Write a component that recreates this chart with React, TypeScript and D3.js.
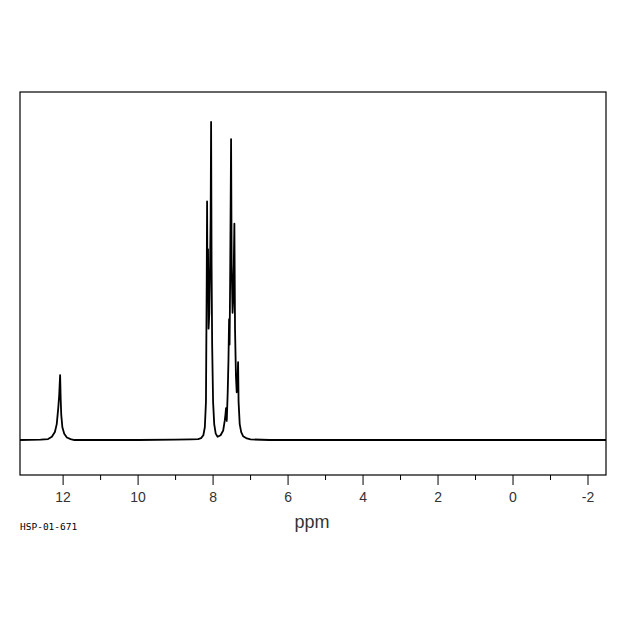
import React from "react";
import * as d3 from "d3";

// Spectrum trace: chemical shift (ppm) and relative intensity (%)
const shiftPpm = [
  13.15, 12.6, 12.4, 12.3, 12.22, 12.17, 12.13, 12.105, 12.08, 12.065, 12.05, 12.02, 11.97, 11.9, 11.8, 11.7,
  10.0, 9.0, 8.6, 8.4, 8.32, 8.26, 8.22, 8.19, 8.17, 8.16, 8.15, 8.135, 8.12, 8.1, 8.08, 8.065, 8.053, 8.04,
  8.025, 8.0, 7.97, 7.93, 7.88, 7.8, 7.73, 7.69, 7.67, 7.655, 7.635, 7.61, 7.59, 7.573, 7.56, 7.545, 7.52,
  7.505, 7.48, 7.46, 7.432, 7.415, 7.39, 7.37, 7.345, 7.333, 7.32, 7.29, 7.25, 7.2, 7.1, 7.0, 6.5, 4.0, 0.0,
  -2.48,
];
const intensity = [
  0, 0.1, 0.3, 1, 2.5, 5, 10, 14, 20.4, 13, 8, 4, 2, 0.8, 0.3, 0,
  0, 0.1, 0.2, 0.3, 0.6, 1.5, 4, 12, 50, 75, 45, 60, 35, 40, 55, 70, 100, 55,
  30, 12, 5, 2, 1, 1.5, 3, 6, 8, 10, 6, 15, 25, 38, 30, 50, 94.6,
  55, 40, 45, 68, 35, 20, 15, 20, 24.5, 12, 5, 2.5, 1.2, 0.5, 0.2, 0, 0, 0,
  0,
];

const majorTicks = [12, 10, 8, 6, 4, 2, 0, -2];
const minorTicks = [11, 9, 7, 5, 3, 1, -1];
const xTitle = "ppm";
const sampleId = "HSP-01-671";

export default function App() {
  const x = d3.scaleLinear().domain([13.15, -2.48]).range([20, 606]);
  const y = d3.scaleLinear().domain([-11, 109.4]).range([475, 92]);
  const pts = shiftPpm.map((p, i) => [p, intensity[i]] as [number, number]);
  const line = d3
    .line<[number, number]>()
    .x((d) => x(d[0]))
    .y((d) => y(d[1]));

  return (
    <svg
      width={620}
      height={620}
      style={{ position: "absolute", left: 0, top: 0, background: "#fff" }}
    >
      <rect x={20} y={92} width={586} height={383} fill="none" stroke="#000" strokeWidth={1.2} />
      <path d={line(pts) || ""} fill="none" stroke="#000" strokeWidth={1.8} strokeLinejoin="round" />
      {majorTicks.map((t) => (
        <g key={"M" + t}>
          <line x1={x(t)} x2={x(t)} y1={475} y2={485} stroke="#000" strokeWidth={1} />
          <text
            x={x(t)}
            y={502}
            textAnchor="middle"
            fontFamily="Liberation Sans, sans-serif"
            fontSize={14}
            fill="#333"
          >
            {t < 0 ? "-" + Math.abs(t) : String(t)}
          </text>
        </g>
      ))}
      {minorTicks.map((t) => (
        <line key={"m" + t} x1={x(t)} x2={x(t)} y1={475} y2={480} stroke="#000" strokeWidth={1} />
      ))}
      <text
        x={312}
        y={528}
        textAnchor="middle"
        fontFamily="Liberation Sans, sans-serif"
        fontSize={18}
        fill="#333"
      >
        {xTitle}
      </text>
      <text x={20} y={530} fontFamily="DejaVu Sans Mono, monospace" fontSize={9.5} fill="#000">
        {sampleId}
      </text>
    </svg>
  );
}
